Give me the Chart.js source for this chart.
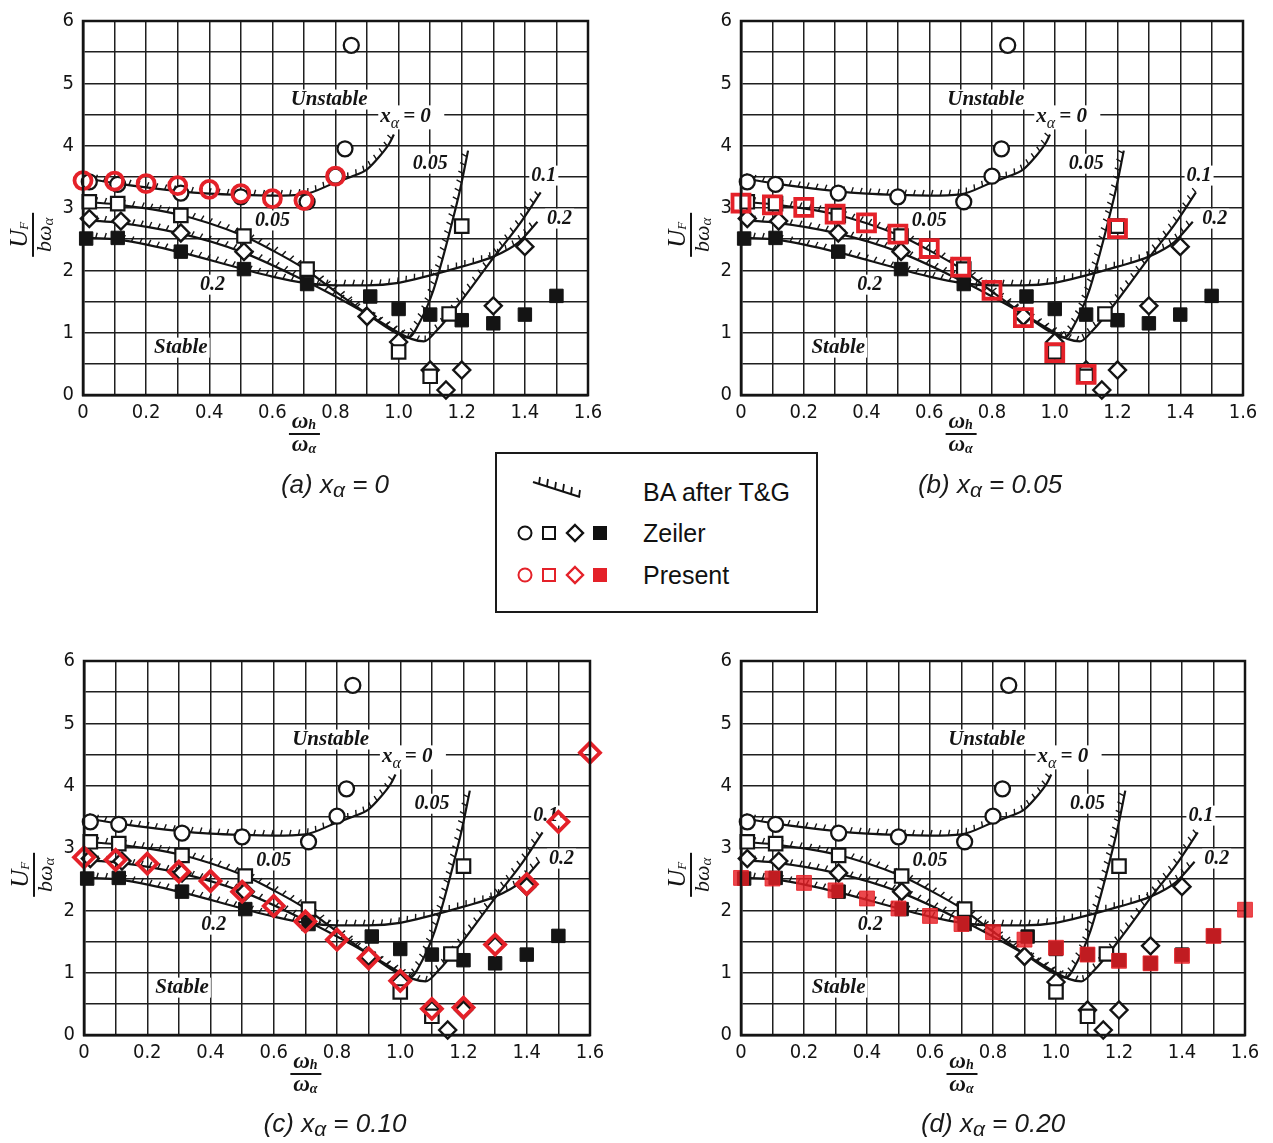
<!DOCTYPE html>
<html>
<head>
<meta charset="utf-8">
<script src="https://cdn.jsdelivr.net/npm/chart.js@4.4.1/dist/chart.umd.min.js"></script>
<style>
  body { margin: 0; width: 1273px; height: 1143px; background: #fff; position: relative; overflow: hidden; font-family: "Liberation Sans", Arial, sans-serif; }
  canvas { position: absolute; }
  .caption { position: absolute; font-style: italic; font-size: 26px; line-height: 28px; color: #1a1a1a; transform: translateX(-50%); white-space: nowrap; }
  .caption sub { font-size: 21px; line-height: 0; position: relative; top: 4px; vertical-align: baseline; }
  #legend { position: absolute; left: 495px; top: 452px; width: 319px; height: 157px; border: 2px solid #1a1a1a; background: #fff; }
  #legend svg { position: absolute; left: 0; top: 0; }
  .lt { position: absolute; left: 146px; font-size: 25px; line-height: 30px; color: #111; white-space: nowrap; }
</style>
</head>
<body>
<canvas id="panelA" width="620" height="470" style="left:0px;top:0px"></canvas>
<canvas id="panelB" width="615" height="470" style="left:658px;top:0px"></canvas>
<canvas id="panelC" width="620" height="470" style="left:1px;top:640px"></canvas>
<canvas id="panelD" width="615" height="470" style="left:658px;top:640px"></canvas>

<div class="caption" style="left:335px;top:470px">(a) x<sub>α</sub> = 0</div>
<div class="caption" style="left:990px;top:470px">(b) x<sub>α</sub> = 0.05</div>
<div class="caption" style="left:335px;top:1109px">(c) x<sub>α</sub> = 0.10</div>
<div class="caption" style="left:993px;top:1109px">(d) x<sub>α</sub> = 0.20</div>

<div id="legend">
  <svg width="319" height="157">
    <path d="M36 28 L83 43" stroke="#111" stroke-width="2.2" fill="none"/>
    <path d="M42 30 l1 -7 M50 32 l1 -7 M58 35 l1 -7 M66 37 l1 -7 M74 40 l1 -7 M82 43 l1 -7" stroke="#111" stroke-width="1.8" fill="none"/>
    <circle cx="28" cy="79" r="6.5" stroke="#111" stroke-width="2" fill="none"/>
    <rect x="46" y="73" width="12" height="12" stroke="#111" stroke-width="2" fill="none"/>
    <path d="M78 71 L86 79 L78 87 L70 79 Z" stroke="#111" stroke-width="2.4" fill="none"/>
    <rect x="96" y="72" width="14" height="14" fill="#111"/>
    <circle cx="28" cy="121" r="6.5" stroke="#e42129" stroke-width="2" fill="none"/>
    <rect x="46" y="115" width="12" height="12" stroke="#e42129" stroke-width="2" fill="none"/>
    <path d="M78 113 L86 121 L78 129 L70 121 Z" stroke="#e42129" stroke-width="2.4" fill="none"/>
    <rect x="96" y="114" width="14" height="14" fill="#e42129"/>
  </svg>
  <div class="lt" style="top:23px">BA after T&amp;G</div>
  <div class="lt" style="top:64px">Zeiler</div>
  <div class="lt" style="top:106px">Present</div>
</div>

<script>
// Zeiler experiments (same in every panel)
const zeilerCircleX = [0.02, 0.11, 0.31, 0.5, 0.71, 0.8, 0.83, 0.85];
const zeilerCircleY = [3.42, 3.38, 3.24, 3.18, 3.1, 3.51, 3.95, 5.61];
const zeilerSquareX = [0.02, 0.11, 0.31, 0.51, 0.71, 1.0, 1.1, 1.16, 1.2];
const zeilerSquareY = [3.1, 3.07, 2.88, 2.55, 2.02, 0.69, 0.3, 1.3, 2.71];
const zeilerDiamondX = [0.02, 0.12, 0.31, 0.51, 0.9, 1.0, 1.1, 1.15, 1.2, 1.3, 1.4];
const zeilerDiamondY = [2.83, 2.79, 2.6, 2.3, 1.26, 0.85, 0.4, 0.08, 0.4, 1.43, 2.38];
const zeilerFilledX = [0.01, 0.11, 0.31, 0.51, 0.71, 0.91, 1.0, 1.1, 1.2, 1.3, 1.4, 1.5];
const zeilerFilledY = [2.51, 2.52, 2.3, 2.02, 1.78, 1.58, 1.38, 1.29, 1.2, 1.15, 1.29, 1.59];

// BA after T&G curves, one per x_alpha
const baX00 = [0, 0.1, 0.2, 0.3, 0.4, 0.5, 0.6, 0.7, 0.8, 0.85, 0.9, 0.94, 0.97, 0.985];
const baY00 = [3.48, 3.4, 3.33, 3.27, 3.23, 3.21, 3.2, 3.22, 3.41, 3.5, 3.62, 3.83, 4.03, 4.18];
const baX05 = [0, 0.1, 0.3, 0.5, 0.6, 0.7, 0.8, 0.9, 1.0, 1.03, 1.07, 1.11, 1.14, 1.17, 1.195, 1.22];
const baY05 = [3.1, 3.06, 2.9, 2.57, 2.32, 2.03, 1.66, 1.3, 0.97, 0.92, 1.2, 1.68, 2.2, 2.78, 3.3, 3.92];
const baX10 = [0, 0.1, 0.3, 0.5, 0.7, 0.8, 0.9, 1.0, 1.04, 1.08, 1.12, 1.2, 1.3, 1.38, 1.45];
const baY10 = [2.8, 2.77, 2.6, 2.3, 1.84, 1.58, 1.3, 1.0, 0.9, 0.86, 1.03, 1.52, 2.2, 2.72, 3.25];
const baX20 = [0, 0.1, 0.3, 0.5, 0.6, 0.7, 0.8, 0.9, 1.0, 1.1, 1.2, 1.3, 1.38, 1.44];
const baY20 = [2.52, 2.5, 2.3, 2.03, 1.9, 1.8, 1.76, 1.76, 1.8, 1.92, 2.06, 2.22, 2.45, 2.78];

// Present results, one series per panel
const presentAX = [0, 0.1, 0.2, 0.3, 0.4, 0.5, 0.6, 0.7, 0.8];
const presentAY = [3.44, 3.43, 3.39, 3.36, 3.3, 3.23, 3.15, 3.12, 3.51];
const presentBX = [0, 0.1, 0.2, 0.3, 0.4, 0.5, 0.6, 0.7, 0.8, 0.9, 1.0, 1.1, 1.2];
const presentBY = [3.08, 3.05, 3.01, 2.9, 2.76, 2.58, 2.35, 2.05, 1.68, 1.24, 0.68, 0.33, 2.67];
const presentCX = [0, 0.1, 0.2, 0.3, 0.4, 0.5, 0.6, 0.7, 0.8, 0.9, 1.0, 1.1, 1.2, 1.3, 1.4, 1.5, 1.6];
const presentCY = [2.85, 2.81, 2.75, 2.62, 2.47, 2.3, 2.07, 1.82, 1.53, 1.23, 0.87, 0.42, 0.44, 1.45, 2.42, 3.42, 4.53];
const presentDX = [0, 0.1, 0.2, 0.3, 0.4, 0.5, 0.6, 0.7, 0.8, 0.9, 1.0, 1.1, 1.2, 1.3, 1.4, 1.5, 1.6];
const presentDY = [2.52, 2.51, 2.44, 2.32, 2.19, 2.03, 1.91, 1.78, 1.65, 1.53, 1.4, 1.29, 1.19, 1.15, 1.27, 1.59, 2.01];

// Axis ticks
const xTickLabels = ["0", "0.2", "0.4", "0.6", "0.8", "1.0", "1.2", "1.4", "1.6"];
const yTickLabels = ["0", "1", "2", "3", "4", "5", "6"];

// In-plot annotations (data coordinates)
const noteText = ["Unstable", "0.05", "0.1", "0.2", "0.05", "0.2", "Stable"];
const noteX = [0.78, 1.10, 1.46, 1.51, 0.60, 0.41, 0.31];
const noteY = [4.74, 3.71, 3.52, 2.83, 2.80, 1.77, 0.76];
const xaLabelX = 1.04, xaLabelY = 4.47;

const RED = "#e42129";
const INK = "#141414";
const serif = '"Liberation Serif", "DejaVu Serif", serif';
const tickFont = { family: '"Liberation Sans Narrow", "DejaVu Sans Condensed", "Liberation Sans", sans-serif', size: 20 };

const pts = (xs, ys) => xs.map((x, i) => ({ x: x, y: ys[i] }));

// hatch ticks along the BA curves, on the unstable (left of travel) side
const hatchPlugin = {
  id: "hatch",
  afterDatasetDraw(chart, args) {
    const ds = chart.data.datasets[args.index];
    if (!ds.hatch) return;
    const el = args.meta.data;
    const ctx = chart.ctx;
    const a = chart.chartArea;
    ctx.save();
    ctx.beginPath();
    ctx.rect(a.left, a.top, a.right - a.left, a.bottom - a.top);
    ctx.clip();
    ctx.beginPath();
    ctx.strokeStyle = INK;
    ctx.lineWidth = 1.4;
    let run = 5;
    for (let i = 0; i < el.length - 1; i++) {
      const p = el[i], q = el[i + 1];
      const c1x = p.cp2x ?? p.x, c1y = p.cp2y ?? p.y;
      const c2x = q.cp1x ?? q.x, c2y = q.cp1y ?? q.y;
      let px = p.x, py = p.y;
      for (let s = 1; s <= 60; s++) {
        const t = s / 60, u = 1 - t;
        const x = u * u * u * p.x + 3 * u * u * t * c1x + 3 * u * t * t * c2x + t * t * t * q.x;
        const y = u * u * u * p.y + 3 * u * u * t * c1y + 3 * u * t * t * c2y + t * t * t * q.y;
        const dx = x - px, dy = y - py, len = Math.hypot(dx, dy);
        run += len;
        if (run >= 8.5 && len > 0) {
          run = 0;
          const tx = dx / len, ty = dy / len;
          ctx.moveTo(x, y);
          ctx.lineTo(x + ty * 5.5 + tx * 1.5, y - tx * 5.5 + ty * 1.5);
        }
        px = x; py = y;
      }
    }
    ctx.stroke();
    ctx.restore();
  }
};

function textWithSub(ctx, base, sub, x, y, font, subFont, subDrop) {
  ctx.font = font;
  const w1 = ctx.measureText(base).width;
  ctx.font = subFont;
  const w2 = ctx.measureText(sub).width;
  const start = x - (w1 + w2) / 2;
  ctx.font = font;
  ctx.fillText(base, start, y);
  ctx.font = subFont;
  ctx.fillText(sub, start + w1, y + subDrop);
  return w1 + w2;
}

// frame, labels and axis titles
const decorPlugin = {
  id: "decor",
  beforeDatasetsDraw(chart) {
    const ctx = chart.ctx;
    const xs = chart.scales.x, ys = chart.scales.y;
    ctx.save();
    ctx.textBaseline = "middle";
    ctx.textAlign = "center";
    noteText.forEach((t, i) => {
      const big = t.length > 4;
      ctx.font = "bold italic " + (big ? 21 : 20) + "px " + serif;
      const px = xs.getPixelForValue(noteX[i]), py = ys.getPixelForValue(noteY[i]);
      const w = ctx.measureText(t).width;
      ctx.fillStyle = "#fff";
      ctx.fillRect(px - w / 2 - 2, py - 10, w + 4, 20);
      ctx.fillStyle = INK;
      ctx.fillText(t, px, py);
    });
    // x_alpha = 0 label
    const lx = xs.getPixelForValue(xaLabelX), ly = ys.getPixelForValue(xaLabelY);
    ctx.fillStyle = "#fff";
    ctx.fillRect(lx - 33, ly - 11, 66, 24);
    ctx.fillStyle = INK;
    ctx.textAlign = "left";
    const big = "bold italic 21px " + serif, sub = "italic 16px " + serif;
    ctx.font = big;
    const wx = ctx.measureText("x").width;
    ctx.fillText("x", lx - 31, ly);
    ctx.font = sub;
    const wa = ctx.measureText("α").width;
    ctx.fillText("α", lx - 31 + wx, ly + 7);
    ctx.font = big;
    ctx.fillText("= 0", lx - 31 + wx + wa + 4, ly);
    ctx.restore();
  },
  afterDraw(chart) {
    const ctx = chart.ctx;
    const xs = chart.scales.x, ys = chart.scales.y;
    const a = chart.chartArea;
    ctx.save();
    ctx.strokeStyle = INK;
    ctx.lineWidth = 2.5;
    ctx.strokeRect(a.left, a.top, a.right - a.left, a.bottom - a.top);
    ctx.fillStyle = INK;
    ctx.textBaseline = "middle";
    ctx.textAlign = "left";
    // x title: omega_h / omega_alpha
    const cx = xs.getPixelForValue(0.7);
    const base = "bold italic 23px " + serif, small = "bold italic 14px " + serif;
    textWithSub(ctx, "ω", "h", cx, a.bottom + 27, base, small, 3);
    ctx.fillRect(cx - 15, a.bottom + 38, 31, 2);
    textWithSub(ctx, "ω", "α", cx, a.bottom + 50, base, small, 4);
    // y title: U_F / b omega_alpha, rotated
    const cy = ys.getPixelForValue(2.57);
    ctx.translate(33, cy);
    ctx.rotate(-Math.PI / 2);
    textWithSub(ctx, "U", "F", 0, -13, "italic 25px " + serif, "italic 13px " + serif, 5);
    ctx.fillRect(-22, -1, 44, 2);
    textWithSub(ctx, "bω", "α", 0, 12, "italic 22px " + serif, "italic 15px " + serif, 4);
    ctx.restore();
  }
};

function makePanel(id, padRight, present) {
  const curve = (xs, ys) => ({
    type: "line", data: pts(xs, ys), hatch: true, order: 3,
    borderColor: INK, borderWidth: 2.2, pointRadius: 0, fill: false,
    cubicInterpolationMode: "monotone"
  });
  const marker = (xs, ys, style, r, fillCol, lineCol, lw, order) => ({
    type: "scatter", data: pts(xs, ys), order: order, pointStyle: style, pointRadius: r, clip: false,
    pointBackgroundColor: fillCol, pointBorderColor: lineCol, pointBorderWidth: lw, showLine: false
  });
  const datasets = [
    curve(baX00, baY00), curve(baX05, baY05), curve(baX10, baY10), curve(baX20, baY20),
    marker(zeilerCircleX, zeilerCircleY, "circle", 7.5, "#fff", INK, 2.3, 2),
    marker(zeilerSquareX, zeilerSquareY, "rect", 9.5, "#fff", INK, 2.2, 2),
    marker(zeilerDiamondX, zeilerDiamondY, "rectRot", 8.5, "#fff", INK, 2.4, 2),
    marker(zeilerFilledX, zeilerFilledY, "rect", 9.5, INK, INK, 1, 2),
    marker(present.x, present.y, present.style, present.r, present.fill, present.line, present.lw, 0)
  ];
  new Chart(document.getElementById(id), {
    type: "scatter",
    data: { datasets: datasets },
    options: {
      responsive: false,
      animation: false,
      devicePixelRatio: 1,
      layout: { padding: { top: 15, right: padRight, left: 0, bottom: 0 } },
      plugins: { legend: { display: false }, tooltip: { enabled: false } },
      scales: {
        x: {
          type: "linear", min: 0, max: 1.6,
          afterFit: (s) => { s.height = 75; },
          grid: { color: "#1f1f1f", lineWidth: 1.5, drawTicks: false },
          border: { color: INK, width: 2.5 },
          ticks: {
            stepSize: 0.1, autoSkip: false, maxRotation: 0, padding: 6, color: INK, font: tickFont,
            callback: (v) => { const k = Math.round(v * 10); return k % 2 === 0 ? xTickLabels[k / 2] : ""; }
          }
        },
        y: {
          min: 0, max: 6,
          afterFit: (s) => { s.width = 83; },
          grid: { color: "#1f1f1f", lineWidth: 1.5, drawTicks: false },
          border: { color: INK, width: 2.5 },
          ticks: {
            stepSize: 0.5, padding: 9, color: INK, font: tickFont,
            callback: (v) => Number.isInteger(v) ? yTickLabels[v] : ""
          }
        }
      }
    },
    plugins: [hatchPlugin, decorPlugin]
  });
}

makePanel("panelA", 32, { x: presentAX, y: presentAY, style: "circle", r: 8.5, fill: "rgba(0,0,0,0)", line: RED, lw: 3.8 });
makePanel("panelB", 30, { x: presentBX, y: presentBY, style: "rect", r: 12, fill: "rgba(0,0,0,0)", line: RED, lw: 3.8 });
makePanel("panelC", 31, { x: presentCX, y: presentCY, style: "rectRot", r: 10, fill: "rgba(0,0,0,0)", line: RED, lw: 3.8 });
makePanel("panelD", 28, { x: presentDX, y: presentDY, style: "rect", r: 10.5, fill: "rgba(230,30,36,0.82)", line: "rgba(230,30,36,0.82)", lw: 1 });
</script>
</body>
</html>
